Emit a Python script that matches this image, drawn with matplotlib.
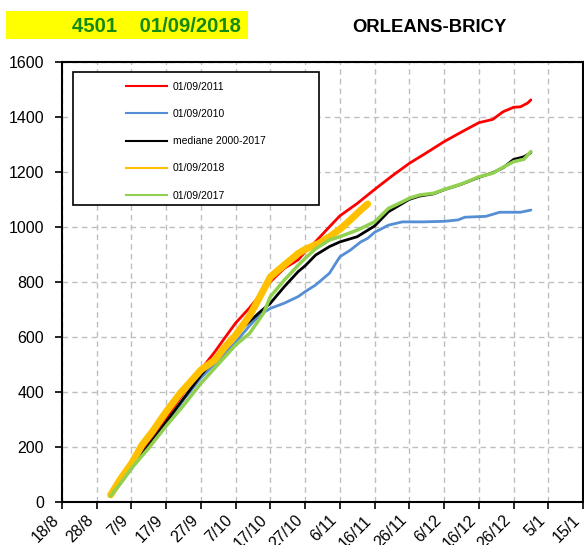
import datetime as dt
import matplotlib
matplotlib.use('Agg')
import matplotlib.pyplot as plt
from matplotlib.patches import Rectangle

plt.rcParams['font.family'] = ['Liberation Sans', 'DejaVu Sans']

# axis: days counted from 18/8, one tick every 10 days
origin = dt.date(2018, 8, 18)
start = dt.date(2018, 9, 1)
tick_labels = ['18/8', '28/8', '7/9', '17/9', '27/9', '7/10', '17/10', '27/10',
               '6/11', '16/11', '26/11', '6/12', '16/12', '26/12', '5/1', '15/1']
y_ticks = [0, 200, 400, 600, 800, 1000, 1200, 1400, 1600]

# days since 1/9 and cumulated values
red_days = [0, 3, 6, 11, 16, 21, 26, 30, 33, 36, 40, 43, 46, 50, 54, 56, 59, 63,
            66, 71, 76, 81, 86, 91, 96, 101, 106, 110, 113, 116, 118, 120, 121]
red_vals = [20, 72, 128, 218, 305, 395, 480, 545, 598, 650, 705, 752, 800, 849, 880, 909, 946, 1000,
            1040, 1085, 1136, 1185, 1231, 1270, 1310, 1345, 1379, 1391, 1419, 1435, 1437, 1450, 1462]

blue_days = [0, 3, 6, 11, 16, 21, 26, 31, 36, 40, 43, 46, 50, 54, 56, 59, 63, 66, 69, 72,
             74, 76, 80, 84, 90, 96, 100, 102, 108, 112, 118, 121]
blue_vals = [20, 70, 120, 205, 285, 370, 450, 515, 580, 640, 680, 703, 722, 746, 764, 788, 831, 891, 915, 945,
             958, 980, 1006, 1018, 1018, 1020, 1025, 1035, 1038, 1053, 1053, 1061]

median_days = [0, 3, 6, 11, 16, 21, 26, 31, 36, 40, 43, 46, 50, 54, 56, 59, 63, 66, 71, 76,
               80, 84, 86, 89, 93, 96, 101, 106, 110, 113, 116, 119, 121]
median_vals = [20, 70, 121, 205, 290, 375, 460, 535, 610, 655, 690, 722, 782, 837, 858, 897, 928, 945, 964, 1003,
               1055, 1085, 1100, 1112, 1120, 1135, 1155, 1180, 1197, 1215, 1245, 1255, 1270]

y2018_days = [0, 3, 6, 9, 12, 16, 20, 23, 26, 30, 33, 36, 40, 43, 46, 50, 54, 56, 60,
              63, 66, 69, 72, 74]
y2018_vals = [24, 85, 138, 205, 254, 327, 394, 436, 479, 515, 564, 606, 676, 746, 818, 861, 903, 918, 940,
              964, 991, 1025, 1061, 1083]

y2017_days = [0, 3, 6, 11, 16, 21, 26, 31, 36, 40, 44, 46, 50, 54, 56, 59, 63, 66, 71, 76,
              80, 84, 86, 89, 93, 96, 101, 106, 110, 113, 116, 119, 121]
y2017_vals = [20, 68, 121, 195, 275, 350, 430, 500, 570, 612, 685, 746, 806, 860, 885, 920, 952, 964, 988, 1018,
              1067, 1091, 1104, 1116, 1122, 1136, 1156, 1182, 1195, 1217, 1237, 1246, 1274]

series = [
    ('01/09/2011', red_days, red_vals, '#FF0000', 2.0),
    ('01/09/2010', blue_days, blue_vals, '#558ED5', 2.0),
    ('mediane 2000-2017', median_days, median_vals, '#000000', 2.0),
    ('01/09/2018', y2018_days, y2018_vals, '#FFC000', 5.0),
    ('01/09/2017', y2017_days, y2017_vals, '#92D050', 2.5),
]

offset = (start - origin).days

fig = plt.figure(figsize=(5.84, 5.45), dpi=100)
ax = fig.add_axes([62/584, 43.5/545, 521/584, 439.5/545])

handles = []
for label, days, vals, color, lw in series:
    ax.plot([d + offset for d in days], vals, color=color, lw=lw,
            solid_capstyle='round', solid_joinstyle='round')
    h, = ax.plot([], [], color=color, lw=1.5, label=label)
    handles.append(h)

ax.set_xlim(0, 10 * (len(tick_labels) - 1))
ax.set_ylim(0, 1600)
ax.set_xticks(range(0, 10 * len(tick_labels), 10))
ax.set_xticklabels(tick_labels, rotation=45, ha='right', fontsize=11.5)
ax.set_yticks(y_ticks)
ax.set_yticklabels([str(v) for v in y_ticks], fontsize=11.5)
ax.tick_params(direction='out', length=5, width=1.2, colors='black', pad=3)
ax.tick_params(axis='y', pad=8)
ax.grid(True, color='#BFBFBF', linestyle=(0, (4, 3)), linewidth=1)
ax.set_axisbelow(True)
for s in ax.spines.values():
    s.set_linewidth(1.5)
    s.set_color('black')

# legend frame drawn separately so the entries sit well inside it
ax.add_patch(Rectangle((0.0205, 0.675), 0.4725, 0.302, transform=ax.transAxes,
                       facecolor='white', edgecolor='black', lw=1.2, zorder=4))
leg = ax.legend(handles=handles, loc='upper left', bbox_to_anchor=(0.1223, 0.955),
                frameon=False, fontsize=7.5, borderpad=0, borderaxespad=0,
                handlelength=4.0, handletextpad=0.55, labelspacing=1.65)
leg.set_zorder(5)

# header
fig.patches.append(Rectangle((6/584, (545-39)/545), 242/584, 28/545,
                             transform=fig.transFigure, facecolor='#FFFF00', edgecolor='none'))
fig.text(241/584, (545-27)/545, '4501    01/09/2018', color='#138A13', fontsize=14.6,
         fontweight='bold', ha='right', va='center')
fig.text(429/584, (545-27)/545, 'ORLEANS-BRICY', color='black', fontsize=13.3,
         fontweight='bold', ha='center', va='center')

fig.savefig('out.png', dpi=100)
